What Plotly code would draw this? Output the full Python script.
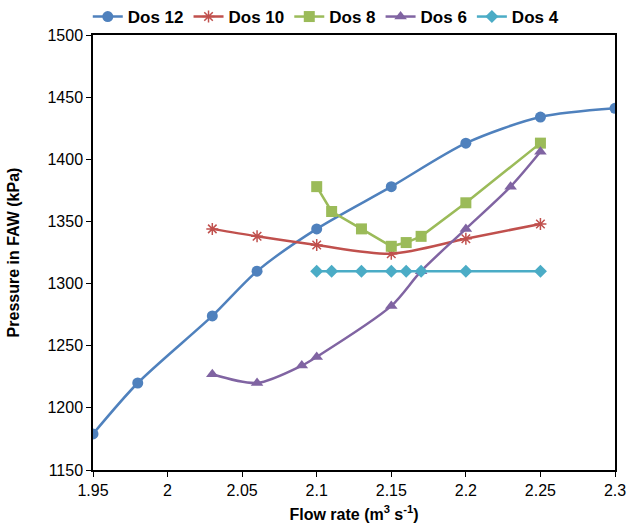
import plotly.graph_objects as go

x12 = [1.95, 1.98, 2.03, 2.06, 2.10, 2.15, 2.20, 2.25, 2.30]
y12 = [1179, 1220, 1274, 1310, 1344, 1378, 1413, 1434, 1441]

x10 = [2.03, 2.06, 2.10, 2.15, 2.20, 2.25]
y10 = [1344, 1338, 1331, 1324, 1336, 1348]

x8 = [2.10, 2.11, 2.13, 2.15, 2.16, 2.17, 2.20, 2.25]
y8 = [1378, 1358, 1344, 1330, 1333, 1338, 1365, 1413]

x6 = [2.03, 2.06, 2.09, 2.10, 2.15, 2.17, 2.20, 2.23, 2.25]
y6 = [1227, 1220, 1234, 1241, 1282, 1310, 1344, 1378, 1406]

x4 = [2.10, 2.11, 2.13, 2.15, 2.16, 2.17, 2.20, 2.25]
y4 = [1310, 1310, 1310, 1310, 1310, 1310, 1310, 1310]

xtick_vals = [1.95, 2.0, 2.05, 2.1, 2.15, 2.2, 2.25, 2.3]
xtick_text = ["1.95", "2", "2.05", "2.1", "2.15", "2.2", "2.25", "2.3"]

series = [
    ("Dos 12", x12, y12, "#4F81BD", "circle", "spline", 11),
    ("Dos 10", x10, y10, "#C0504D", "asterisk-open", "spline", 10),
    ("Dos 8", x8, y8, "#9BBB59", "square", "linear", 11),
    ("Dos 6", x6, y6, "#8064A2", "triangle-up", "spline", 11),
    ("Dos 4", x4, y4, "#4BACC6", "diamond", "linear", 10),
]

FONT = "Liberation Sans, Arial"

fig = go.Figure()
for name, xs, ys, col, sym, shape, ms in series:
    marker = dict(symbol=sym, size=ms, color=col)
    if sym == "asterisk-open":
        marker["line"] = dict(color=col, width=1.5)
    fig.add_trace(go.Scatter(
        x=xs, y=ys, name=name, mode="lines+markers",
        line=dict(color=col, width=2.5, shape=shape, smoothing=0.8),
        marker=marker,
    ))

axis_common = dict(
    showgrid=False, zeroline=False, showline=True, linecolor="black", linewidth=1.5,
    mirror=True, ticks="outside", ticklen=5, tickcolor="black", tickwidth=1,
    tickfont=dict(family=FONT, size=16, color="black"),
)

fig.update_xaxes(range=[1.95, 2.3], tickvals=xtick_vals, ticktext=xtick_text,
                 title=dict(text="Flow rate (m<sup>3</sup> s<sup>-1</sup>)",
                            font=dict(family=FONT, size=16, color="black", weight="bold"),
                            standoff=11),
                 **axis_common)
fig.update_yaxes(range=[1150, 1500], dtick=50,
                 title=dict(text="Pressure in FAW (kPa)",
                            font=dict(family=FONT, size=16, color="black", weight="bold"),
                            standoff=24),
                 **axis_common)

fig.update_layout(
    width=629, height=529,
    margin=dict(l=93, r=14, t=35, b=59, autoexpand=False),
    plot_bgcolor="white", paper_bgcolor="white",
    legend=dict(orientation="h", x=-0.01, xanchor="left", y=1.0, yanchor="bottom",
                font=dict(family=FONT, size=17, color="black", weight="bold"),
                itemwidth=30, tracegroupgap=0, bgcolor="rgba(0,0,0,0)"),
    font=dict(family=FONT),
)

fig.write_html("out.html")
